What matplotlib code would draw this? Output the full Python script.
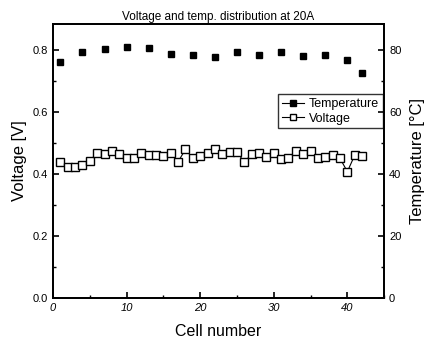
import matplotlib

matplotlib.use("Agg")
import matplotlib.pyplot as plt
from matplotlib.lines import Line2D
from matplotlib.ticker import MultipleLocator

plt.rcParams["font.family"] = ["Liberation Sans", "DejaVu Sans"]

# cell voltage, one reading per cell
voltage_cells = list(range(1, 43))
voltage = [
    0.440, 0.424, 0.424, 0.431, 0.442, 0.469, 0.465, 0.475, 0.465, 0.451,
    0.451, 0.467, 0.461, 0.463, 0.459, 0.467, 0.440, 0.480, 0.451, 0.458,
    0.467, 0.480, 0.465, 0.472, 0.472, 0.438, 0.465, 0.469, 0.456, 0.467,
    0.448, 0.451, 0.475, 0.465, 0.475, 0.451, 0.456, 0.461, 0.451, 0.408,
    0.461, 0.458,
]

# temperature measured on every third cell
temp_cells = [1, 4, 7, 10, 13, 16, 19, 22, 25, 28, 31, 34, 37, 40, 42]
temperature = [76.3, 79.3, 80.5, 80.9, 80.7, 78.9, 78.6, 77.8, 79.4, 78.6,
               79.3, 78.2, 78.4, 76.8, 72.5]

fig = plt.figure(figsize=(4.24, 3.45), dpi=100)
ax = fig.add_axes([0.125, 0.136, 0.781, 0.794])
ax2 = ax.twinx()

ax.plot(voltage_cells, voltage, color="black", linewidth=0.8, marker="s",
        markersize=5.2, markerfacecolor="white", markeredgecolor="black",
        markeredgewidth=1.0)
ax2.plot(temp_cells, temperature, linestyle="none", marker="s",
         markersize=5.0, color="black")

ax.set_xlim(0, 45)
ax.set_ylim(0, 0.884)
ax2.set_ylim(0, 88.4)

ax.xaxis.set_major_locator(MultipleLocator(10))
ax.xaxis.set_minor_locator(MultipleLocator(5))
ax.yaxis.set_major_locator(MultipleLocator(0.2))
ax.yaxis.set_minor_locator(MultipleLocator(0.1))
ax2.yaxis.set_major_locator(MultipleLocator(20))
ax2.yaxis.set_minor_locator(MultipleLocator(10))

for a in (ax, ax2):
    a.tick_params(which="both", direction="in", labelsize=8)
    a.tick_params(which="major", length=4, width=1.2)
    a.tick_params(which="minor", length=2, width=1.0)
    for spine in a.spines.values():
        spine.set_linewidth(1.3)

ax.set_yticklabels([f"{v:.1f}" for v in ax.get_yticks()])
for lbl in ax.get_xticklabels():
    lbl.set_style("italic")

ax.set_xlabel("Cell number", fontsize=11.5, labelpad=8)
ax.set_ylabel("Voltage [V]", fontsize=12)
ax2.set_ylabel("Temperature [°C]", fontsize=12, labelpad=6)
ax.set_title("Voltage and temp. distribution at 20A", fontsize=8.5, pad=3)

handles = [
    Line2D([], [], color="black", linewidth=0.8, marker="s", markersize=4),
    Line2D([], [], color="black", linewidth=0.8, marker="s", markersize=4,
           markerfacecolor="white"),
]
leg = ax.legend(handles, ["Temperature", "Voltage"], loc="upper right",
                bbox_to_anchor=(1.0, 0.748), fontsize=9, fancybox=False,
                edgecolor="black", handlelength=1.8, borderpad=0.3,
                labelspacing=0.2, handletextpad=0.4, borderaxespad=0.1)
leg.get_frame().set_linewidth(1.0)

fig.savefig("out.png", dpi=100, facecolor="white")
